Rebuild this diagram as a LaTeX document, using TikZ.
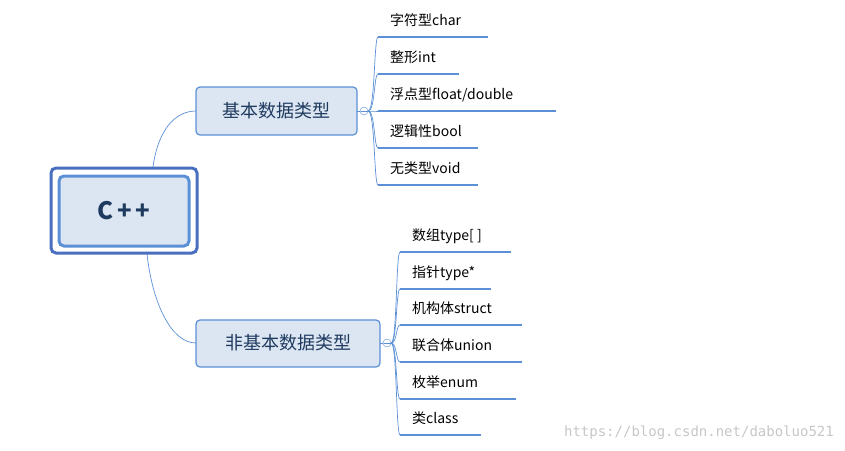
\documentclass[tikz,border=0pt]{standalone}
\usepackage{fontspec}
\setmainfont{Noto Sans CJK SC}
\newfontfamily\wmfont{DejaVu Sans Mono}
\definecolor{lb}{HTML}{5B8FD6}
\definecolor{fillb}{HTML}{DCE6F2}
\definecolor{dk}{HTML}{1F3A5F}
\definecolor{rootb}{HTML}{4A6FBF}
\begin{document}
\begin{tikzpicture}[x=1pt,y=-1pt,
  leaf/.style={anchor=base west,font=\fontsize{14}{16}\selectfont,inner sep=0pt},
  ul/.style={draw=lb,line width=2pt},
  conn/.style={draw=lb,line width=0.7pt},
  br/.style={draw=lb,line width=1.2pt,fill=fillb,rounded corners=4pt}]
\useasboundingbox (0,0) rectangle (845,450);
% root
\draw[draw=rootb,line width=3pt,rounded corners=5pt] (51,168) rectangle (197,253);
\draw[draw=lb,fill=fillb,line width=3pt,rounded corners=5pt] (59,176) rectangle (189,246);
\node (root) at (124,211) {\fontsize{24}{28}\selectfont\bfseries\color{dk}C\,+\,+};
\coordinate (rt) at (153,167);
\coordinate (rb) at (147,254);
% branches
\draw[br] (196,87) rectangle (357,135);
\node (b1) at (276,111) {\fontsize{18}{22}\selectfont\color{dk}基本数据类型};
\draw[br] (196,320) rectangle (380,367);
\node (b2) at (288,343) {\fontsize{18}{22}\selectfont\color{dk}非基本数据类型};
\coordinate (b1l) at (196,111);
\coordinate (b2l) at (196,343);
\draw[conn] (rt) .. controls (158,130) and (175,111) .. (b1l);
\draw[conn] (rb) .. controls (152,300) and (170,343) .. (b2l);
\node[circle,draw=lb,fill=white,inner sep=0pt,minimum size=8pt] (c1) at (364,111) {};
\node[circle,draw=lb,fill=white,inner sep=0pt,minimum size=8pt] (c2) at (387,343) {};
\draw[draw=lb,line width=0.7pt] (360.5,111)--(367.5,111) (383.5,343)--(390.5,343);
\draw[conn] (357,111)--(c1.west);
\draw[conn] (380,343)--(c2.west);
% leaves branch 1
\foreach \y/\e/\t [count=\i] in {37/488/字符型char,74/459/整形int,111/556/{浮点型float/double},148/478/逻辑性bool,185/478/无类型void}{
  \coordinate (s\i) at (378,\y);
  \draw[ul] (378,\y)--(\e,\y);
  \node[leaf] (l\i) at (390,\y-12) {\t};
  \draw[conn] (c1.east) .. controls (375,111) and (374,\y) .. (s\i);
}
% leaves branch 2
\foreach \y/\e/\t [count=\i] in {252/511/{数组type[ ]},289/491/指针type*,325/522/机构体struct,362/522/联合体union,399/516/枚举enum,435/481/类class}{
  \coordinate (t\i) at (400,\y);
  \draw[ul] (400,\y)--(\e,\y);
  \node[leaf] (m\i) at (412,\y-12) {\t};
  \draw[conn] (c2.east) .. controls (397,343) and (396,\y) .. (t\i);
}
\node[anchor=base east,font=\wmfont\fontsize{14}{16}\selectfont,text=black!22,inner sep=0pt] (wm) at (834,436) {https://blog.csdn.net/daboluo521};
\end{tikzpicture}
\end{document}
